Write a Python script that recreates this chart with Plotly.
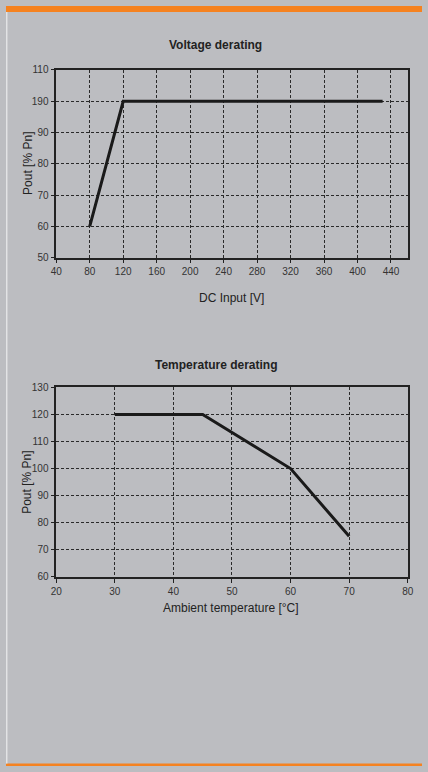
import plotly.graph_objects as go

# Voltage derating data
volt_x = [80, 120, 430]
volt_y = [60, 100, 100]
volt_xticks = [40, 80, 120, 160, 200, 240, 280, 320, 360, 400, 440]
volt_yticks = [50, 60, 70, 80, 90, 100, 110]
volt_yticktext = ["50", "60", "70", "80", "90", "190", "110"]

# Temperature derating data
temp_x = [30, 45, 60, 70]
temp_y = [120, 120, 100, 75]
temp_xticks = [20, 30, 40, 50, 60, 70, 80]
temp_yticks = [60, 70, 80, 90, 100, 110, 120, 130]

W, H = 428, 772
BG = "#bcbdc1"
ORANGE = "#f58220"
FONT = "Liberation Sans, Arial, sans-serif"

def py(px):
    return 1 - px / H

def pxx(px):
    return px / W

fig = go.Figure()
fig.add_trace(go.Scatter(x=volt_x, y=volt_y, mode="lines",
                         line=dict(color="#1a1a1a", width=3), xaxis="x", yaxis="y",
                         showlegend=False, hoverinfo="skip"))
fig.add_trace(go.Scatter(x=temp_x, y=temp_y, mode="lines",
                         line=dict(color="#1a1a1a", width=3), xaxis="x2", yaxis="y2",
                         showlegend=False, hoverinfo="skip"))

axis_common = dict(
    showgrid=True, gridcolor="#2a2a2a", gridwidth=1, griddash="3px,2px",
    showline=True, linecolor="#222", linewidth=1.5, mirror=True,
    ticks="outside", ticklen=4, tickcolor="#222", tickwidth=1,
    tickfont=dict(family=FONT, size=10, color="#333"),
    zeroline=False, fixedrange=True,
)

def ann(text, x, y, size=12, angle=0):
    return dict(text=text, x=pxx(x), y=py(y), xref="paper", yref="paper",
                xanchor="center", yanchor="middle", showarrow=False, textangle=angle,
                font=dict(family=FONT, size=size, color="#222"))

xdom = [pxx(51.7), pxx(413.3)]
fig.update_layout(
    width=W, height=H,
    paper_bgcolor=BG, plot_bgcolor=BG,
    margin=dict(l=0, r=0, t=0, b=0),
    xaxis=dict(domain=xdom, range=[40, 460], tickvals=volt_xticks, anchor="y", **axis_common),
    yaxis=dict(domain=[py(255.7), py(65)], range=[50, 110], tickvals=volt_yticks,
               ticktext=volt_yticktext, anchor="x", **axis_common),
    xaxis2=dict(domain=xdom, range=[20, 80], tickvals=temp_xticks, anchor="y2", **axis_common),
    yaxis2=dict(domain=[py(580), py(387.3)], range=[60, 130], tickvals=temp_yticks,
                anchor="x2", **axis_common),
    shapes=[
        dict(type="rect", xref="paper", yref="paper", x0=0, x1=1, y0=py(6), y1=1,
             fillcolor=ORANGE, line_width=0, layer="above"),
        dict(type="rect", xref="paper", yref="paper", x0=0, x1=1, y0=0, y1=py(769.5),
             fillcolor=ORANGE, line_width=0, layer="above"),
        dict(type="rect", xref="paper", yref="paper", x0=0, x1=pxx(1.5), y0=py(769.5), y1=py(6),
             fillcolor="#e2e3e5", line_width=0, layer="above"),
    ],
    annotations=[
        ann("<b>Voltage derating</b>", 216, 40),
        ann("<b>Temperature derating</b>", 216, 365),
        ann("Pout [% Pn]", 22, 160, angle=-90),
        ann("Pout [% Pn]", 22, 484, angle=-90),
        ann("DC Input [V]", 232, 297),
        ann("Ambient temperature [°C]", 232, 612),
    ],
)

fig.write_html(
    "out.html",
    config={"displayModeBar": False},
    post_script="document.body.style.margin='0';document.body.style.padding='0';"
                "document.documentElement.style.overflow='hidden';",
)
